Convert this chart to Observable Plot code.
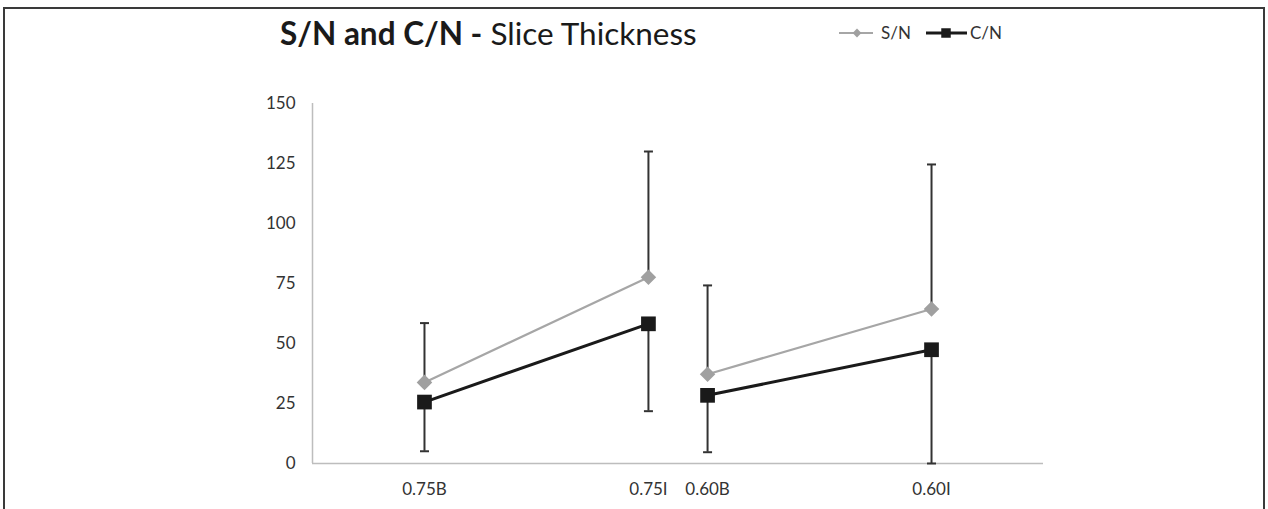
<!DOCTYPE html>
<html><head><meta charset="utf-8">
<script src="https://cdn.jsdelivr.net/npm/d3@7"></script>
<script src="https://cdn.jsdelivr.net/npm/@observablehq/plot@0.6"></script>
<style>
body{margin:0;background:#fff;}
#wrap{position:relative;width:1268px;height:509px;overflow:hidden;font-family:Lato,"Open Sans",sans-serif;background:#fff;}
#frame{position:absolute;left:3px;top:7px;width:1262px;height:520px;border:2px solid #3a3a3a;border-bottom:none;box-sizing:border-box;}
#title{position:absolute;left:280px;top:18px;font-size:31.5px;line-height:1;color:#1a1a1a;white-space:nowrap;}
#title b{font-weight:700;}
#chart{position:absolute;left:0;top:0;}
#legend{position:absolute;left:830px;top:18px;}
</style></head>
<body>
<div id="wrap">
  <div id="chart"></div>
  <div id="frame"></div>
  <div id="title"><b>S/N and C/N -</b> Slice Thickness</div>
  <div id="legend"></div>
</div>
<script>
const categories = ["0.75B", "0.75I", "0.60B", "0.60I"];
const xPos = [1, 2, 2.264, 3.264];
const group = ["0.75", "0.75", "0.60", "0.60"];
const snValues = [33.8, 77.6, 37.2, 64.4];
const cnValues = [25.6, 58.2, 28.4, 47.4];
const snUpper = [58.5, 130, 74.2, 124.6];
const cnLower = [5.1, 21.8, 4.7, 0];
const yTicks = [0, 25, 50, 75, 100, 125, 150];
const seriesNames = ["S/N", "C/N"];

const data = categories.map((c, i) => ({
  cat: c, x: xPos[i], group: group[i],
  sn: snValues[i], cn: cnValues[i], snUp: snUpper[i], cnLo: cnLower[i]
}));

const capSymbol = {draw(ctx) { ctx.moveTo(-4.5, 0); ctx.lineTo(4.5, 0); }};
const xDomain = [0.5, 3.764];

const chart = Plot.plot({
  width: 1268, height: 509,
  marginLeft: 312, marginRight: 225, marginTop: 103, marginBottom: 46,
  style: {fontFamily: "Lato, 'Open Sans', sans-serif", fontSize: "17px", color: "#333", background: "transparent"},
  x: {type: "linear", domain: xDomain},
  y: {domain: [0, 150]},
  marks: [
    Plot.ruleY([0], {stroke: "#bdbdbd", strokeWidth: 1.5}),
    Plot.ruleX([xDomain[0]], {y1: 0, y2: 150, stroke: "#bdbdbd", strokeWidth: 1.5}),
    Plot.axisX(xPos, {tickSize: 0, tickPadding: 19, tickFormat: d => categories[xPos.indexOf(d)], fontSize: 17, label: null}),
    Plot.axisY(yTicks, {tickSize: 0, tickPadding: 17, fontSize: 17, label: null}),
    Plot.ruleX(data, {x: "x", y1: "sn", y2: "snUp", stroke: "#333", strokeWidth: 2}),
    Plot.ruleX(data, {x: "x", y1: "cn", y2: "cnLo", stroke: "#333", strokeWidth: 2}),
    Plot.dot(data, {x: "x", y: "snUp", symbol: capSymbol, r: 4, stroke: "#333", strokeWidth: 2, fill: "none"}),
    Plot.dot(data, {x: "x", y: "cnLo", symbol: capSymbol, r: 4, stroke: "#333", strokeWidth: 2, fill: "none"}),
    Plot.line(data, {x: "x", y: "sn", z: "group", stroke: "#a6a6a6", strokeWidth: 2.2}),
    Plot.line(data, {x: "x", y: "cn", z: "group", stroke: "#1a1a1a", strokeWidth: 3}),
    Plot.dot(data, {x: "x", y: "sn", symbol: "diamond2", r: 7, fill: "#a0a0a0", stroke: "none"}),
    Plot.dot(data, {x: "x", y: "cn", symbol: "square", r: 8.3, fill: "#1a1a1a", stroke: "none"})
  ]
});
document.getElementById("chart").append(chart);

// legend
const lg = d3.select("#legend").append("svg").attr("width", 200).attr("height", 32);
const cy = 15;
lg.append("line").attr("x1", 9).attr("x2", 43).attr("y1", cy).attr("y2", cy).attr("stroke", "#a6a6a6").attr("stroke-width", 2);
lg.append("path").attr("d", d3.symbol(d3.symbolDiamond2, 50)()).attr("transform", `translate(27,${cy})`).attr("fill", "#a0a0a0");
lg.append("text").attr("x", 51).attr("y", cy).attr("dy", "0.35em").attr("font-size", 17).attr("fill", "#333").attr("font-family", "Lato, 'Open Sans', sans-serif").text(seriesNames[0]);
lg.append("line").attr("x1", 96).attr("x2", 137).attr("y1", cy).attr("y2", cy).attr("stroke", "#1a1a1a").attr("stroke-width", 3);
lg.append("path").attr("d", d3.symbol(d3.symbolSquare, 90)()).attr("transform", `translate(116,${cy})`).attr("fill", "#1a1a1a");
lg.append("text").attr("x", 140).attr("y", cy).attr("dy", "0.35em").attr("font-size", 17).attr("fill", "#333").attr("font-family", "Lato, 'Open Sans', sans-serif").text(seriesNames[1]);
</script>
</body></html>
